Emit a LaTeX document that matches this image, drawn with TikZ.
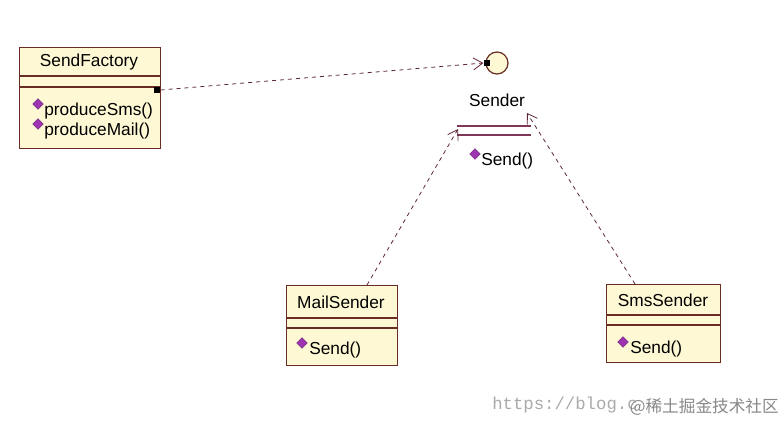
\documentclass[tikz,border=0pt]{standalone}
\usepackage{fontspec}
\setmainfont{Liberation Sans}
\setmonofont{Liberation Mono}
\newfontfamily\cjkfont{Noto Sans CJK SC}
\usepackage{tikz}
\usetikzlibrary{arrows.meta,positioning}
\definecolor{classFill}{RGB}{254,249,212}
\definecolor{classEdge}{RGB}{104,44,36}
\definecolor{linkDark}{RGB}{96,40,56}
\definecolor{ifaceLine}{RGB}{128,56,88}
\definecolor{opPurple}{RGB}{158,52,178}
\definecolor{markGray}{RGB}{170,170,170}
\newcommand{\px}{0.0264cm}

\tikzset{
  classbox/.style={draw=classEdge, fill=classFill, line width=0.9pt, anchor=north west, inner sep=0pt},
  divider/.style={draw=classEdge, line width=0.9pt},
  classname/.style={font=\fontsize{13}{15}\selectfont, inner sep=0pt},
  optext/.style={font=\fontsize{13}{15}\selectfont, anchor=west, inner sep=0pt},
  opdiamond/.style={draw=opPurple!70!black, fill=opPurple, rotate=45, minimum size=5.5pt, inner sep=0pt},
  realize/.style={draw=linkDark, dashed, line width=0.6pt, -{Straight Barb[length=7pt,width=9pt]}},
  ownsq/.style={fill=black, minimum size=5pt, inner sep=0pt}
}

\begin{document}
\begin{tikzpicture}[x=\px, y=-\px]
  \useasboundingbox[fill=white] (0,0) rectangle (784,423);

  % SendFactory
  \node[classbox, minimum width={141*\px}, minimum height={101*\px}] (factory) at (19,47) {};
  \draw[divider] (19,76) -- (160,76);
  \draw[divider] (19,87) -- (160,87);
  \node[classname] (factoryname) at (89,62) {SendFactory};
  \node[opdiamond] (dsms) at (38,104) {};
  \node[optext] (opsms) at (44,111) {produceSms()};
  \node[opdiamond] (dmail) at (38,124) {};
  \node[optext] (opmail) at (44,131) {produceMail()};
  \node[ownsq] (fsq) at (157,90) {};

  % Sender interface
  \node[circle, draw=classEdge, fill=classFill, line width=0.9pt, minimum size={22*\px}, inner sep=0pt] (iface) at (497,63) {};
  \node[ownsq] (isq) at (487,63) {};
  \node[classname] (sendername) at (497,100) {Sender};
  \draw[ifaceLine, line width=0.8pt] (457,126) -- (531,126);
  \draw[ifaceLine, line width=0.8pt] (457,135) -- (531,135);
  \node[opdiamond] (dsend) at (475,154) {};
  \node[optext] (opsend) at (481,161) {Send()};
  \coordinate (implL) at (458,129);
  \coordinate (implR) at (527,113);

  % MailSender
  \node[classbox, minimum width={111*\px}, minimum height={80*\px}] (mail) at (286,285) {};
  \draw[divider] (286,318) -- (397,318);
  \draw[divider] (286,328) -- (397,328);
  \node[classname] (mailname) at (341,302) {MailSender};
  \node[opdiamond] (dmailsend) at (302,343) {};
  \node[optext] (opmailsend) at (309,350) {Send()};
  \coordinate (mailtop) at (367,285);

  % SmsSender
  \node[classbox, minimum width={114*\px}, minimum height={78*\px}] (sms) at (606,284) {};
  \draw[divider] (606,315) -- (720,315);
  \draw[divider] (606,325) -- (720,325);
  \node[classname] (smsname) at (663,300) {SmsSender};
  \node[opdiamond] (dsmssend) at (623,342) {};
  \node[optext] (opsmssend) at (630,349) {Send()};
  \coordinate (smstop) at (635,284);

  % links
  \draw[realize] (fsq.east) -- (isq.west);
  \draw[realize] (mailtop) -- (implL);
  \draw[realize] (smstop) -- (implR);

  % watermark
  \node[font=\ttfamily\fontsize{13}{15}\selectfont, text=markGray, anchor=west, inner sep=0pt] (wmurl) at (492,405) {https://blog.c};
  \node[font=\cjkfont\fontsize{12.5}{15}\selectfont, text=markGray!80!black, anchor=east, inner sep=0pt] (wmjj) at (779,407) {@稀土掘金技术社区};
\end{tikzpicture}
\end{document}
